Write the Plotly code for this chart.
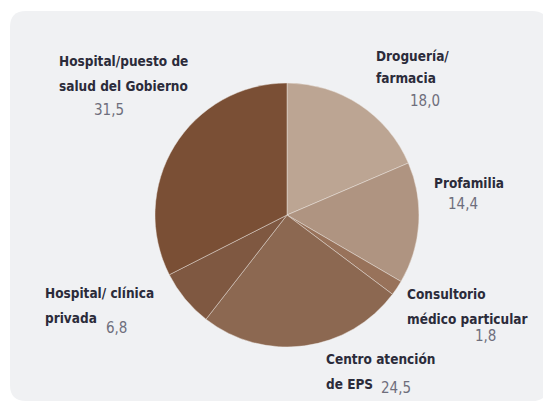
import plotly.graph_objects as go

# Data
categories = ["Droguería/<br>farmacia", "Profamilia", "Consultorio<br>médico particular",
              "Centro atención<br>de EPS", "Hospital/ clínica<br>privada",
              "Hospital/puesto de<br>salud del Gobierno"]
values = [18.0, 14.4, 1.8, 24.5, 6.8, 31.5]
colors = ["#BCA593", "#AF9481", "#98725A", "#8C6851", "#7F5841", "#7A4F35"]

# the page body has an 8px margin, so the figure is drawn 8px in from the window corner
OFF = 8
W, H = 551 - OFF, 404 - OFF
FONT = "DejaVu Sans Condensed, Liberation Sans Narrow, Arial Narrow, sans-serif"

def px(x):
    return (x - OFF) / W

def py(y):
    return 1 - (y - OFF) / H

# label line positions (left x, centre y of first line, line step), number positions (left x, centre y)
label_pos = [(374, 56, 22), (432, 183, 0), (405, 294, 25), (324, 359, 25), (43, 293, 25), (57, 61, 25)]
number_pos = [(408, 101), (446, 204), (473, 336), (379, 388), (104, 328), (92, 110)]

fig = go.Figure(go.Pie(
    labels=[c.replace("<br>", " ") for c in categories],
    values=values,
    sort=False,
    direction="clockwise",
    rotation=0,
    marker=dict(colors=colors, line=dict(color="rgba(240,235,230,0.55)", width=0.8)),
    textinfo="none",
    hoverinfo="label+value",
    domain=dict(x=[px(155), px(419)], y=[py(347), py(83)]),
    showlegend=False,
))

annotations = []
for cat, v, (lx, ly, step), (nx, ny) in zip(categories, values, label_pos, number_pos):
    for i, line in enumerate(cat.split("<br>")):
        annotations.append(dict(
            text=f"<b>{line}</b>", x=px(lx), y=py(ly + i * step),
            xref="paper", yref="paper", xanchor="left", yanchor="middle",
            showarrow=False, font=dict(family=FONT, size=13.5, color="#2B2B3A"),
        ))
    annotations.append(dict(
        text=f"{v:.1f}".replace(".", ","), x=px(nx), y=py(ny),
        xref="paper", yref="paper", xanchor="left", yanchor="middle",
        showarrow=False, font=dict(family=FONT, size=15, color="#6E6E7C"),
    ))

# rounded grey panel behind the chart
x0, x1, y0, y1, r = 10, 548, 11, 401, 16
path = (f"M {px(x0 + r)} {py(y0)} L {px(x1 - r)} {py(y0)} Q {px(x1)} {py(y0)} {px(x1)} {py(y0 + r)} "
        f"L {px(x1)} {py(y1 - r)} Q {px(x1)} {py(y1)} {px(x1 - r)} {py(y1)} "
        f"L {px(x0 + r)} {py(y1)} Q {px(x0)} {py(y1)} {px(x0)} {py(y1 - r)} "
        f"L {px(x0)} {py(y0 + r)} Q {px(x0)} {py(y0)} {px(x0 + r)} {py(y0)} Z")

fig.update_layout(
    width=W, height=H,
    margin=dict(l=0, r=0, t=0, b=0),
    paper_bgcolor="white",
    annotations=annotations,
    shapes=[dict(type="path", path=path, xref="paper", yref="paper",
                 fillcolor="#F0F1F3", line=dict(width=0), layer="below")],
)

fig.write_html("out.html")
